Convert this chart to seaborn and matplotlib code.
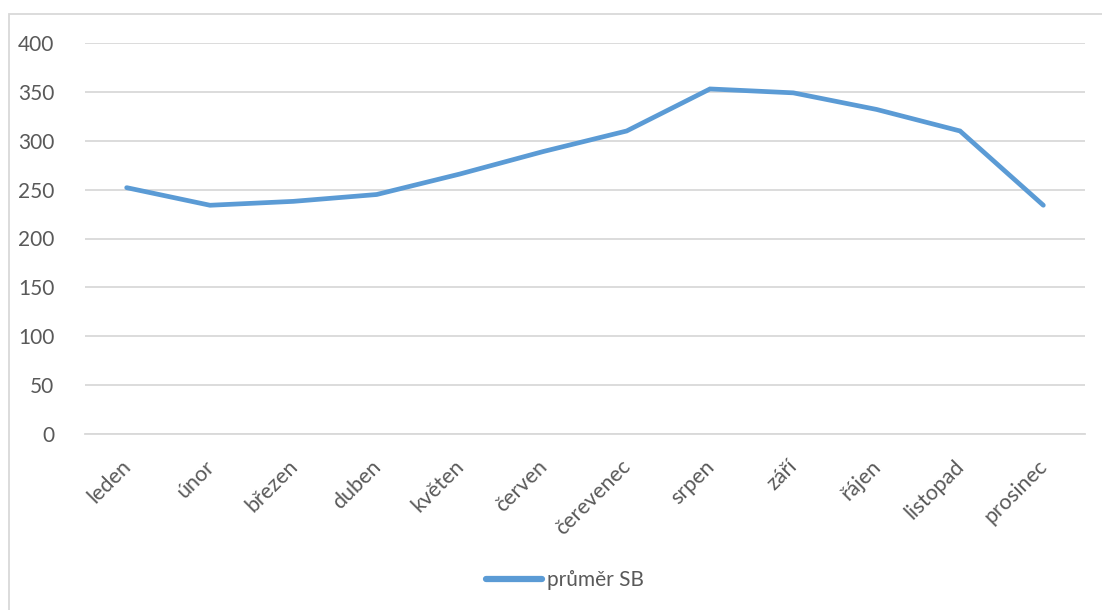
import matplotlib
matplotlib.use("Agg")
import matplotlib.pyplot as plt
import matplotlib.transforms as mtransforms
import seaborn as sns
import pandas as pd
from matplotlib.patches import Rectangle
from matplotlib.lines import Line2D

months = ["leden", "únor", "březen", "duben", "květen", "červen",
          "čerevenec", "srpen", "září", "řájen", "listopad", "prosinec"]
prumer_sb = [252, 234, 238, 245, 266, 289, 310, 353, 349, 332, 310, 234]
y_ticks = [0, 50, 100, 150, 200, 250, 300, 350, 400]
series_name = "průměr SB"

df = pd.DataFrame({"mesic": months, "hodnota": prumer_sb, "x": range(len(months))})

sns.set_theme(style="white")
plt.rcParams["font.family"] = ["Lato", "DejaVu Sans"]

line_color = "#5B9BD5"
text_color = "#595959"
grid_color = "#D9D9D9"

fig = plt.figure(figsize=(11.02, 6.10), dpi=100)
ax = fig.add_axes([85 / 1102, 1 - 434 / 610, 1000 / 1102, 391 / 610])

sns.lineplot(data=df, x="x", y="hodnota", ax=ax, color=line_color,
             linewidth=3.4, solid_capstyle="round", solid_joinstyle="miter",
             legend=False)

ax.set_xlim(-0.5, len(months) - 0.5)
ax.set_ylim(0, 400)
ax.set_yticks(y_ticks)
ax.set_yticklabels([str(v) for v in y_ticks], fontsize=15, color=text_color)
ax.set_xticks(range(len(months)))
ax.set_xticklabels(months, fontsize=15.5, color=text_color, rotation=45,
                   ha="right", va="top", rotation_mode="anchor")
ax.tick_params(axis="y", length=0, pad=22)
ax.tick_params(axis="x", length=0, pad=16)
# nudge the slanted month names slightly left so they end at their tick
shift = mtransforms.ScaledTranslation(-6 / 100, 0, fig.dpi_scale_trans)
for lbl in ax.get_xticklabels():
    lbl.set_transform(lbl.get_transform() + shift)
ax.set_xlabel("")
ax.set_ylabel("")

ax.grid(axis="y", color=grid_color, linewidth=1.3)
ax.grid(axis="x", visible=False)
ax.set_axisbelow(True)
for side in ["left", "right", "top"]:
    ax.spines[side].set_visible(False)
ax.spines["bottom"].set_color(grid_color)
ax.spines["bottom"].set_linewidth(1.3)

# outer chart frame
fig.patches.append(Rectangle((9 / 1102, -0.05), 1.2, 1 - 14 / 610 + 0.05,
                             transform=fig.transFigure, fill=False,
                             edgecolor=grid_color, linewidth=1.3))

handle = Line2D([], [], color=line_color, linewidth=4.5, solid_capstyle="round")
fig.legend([handle], [series_name], loc="center", bbox_to_anchor=(565 / 1102, 1 - 580 / 610),
           frameon=False, fontsize=15, labelcolor=text_color,
           handlelength=2.7, handletextpad=0.25)

fig.savefig("out.png", dpi=100)
